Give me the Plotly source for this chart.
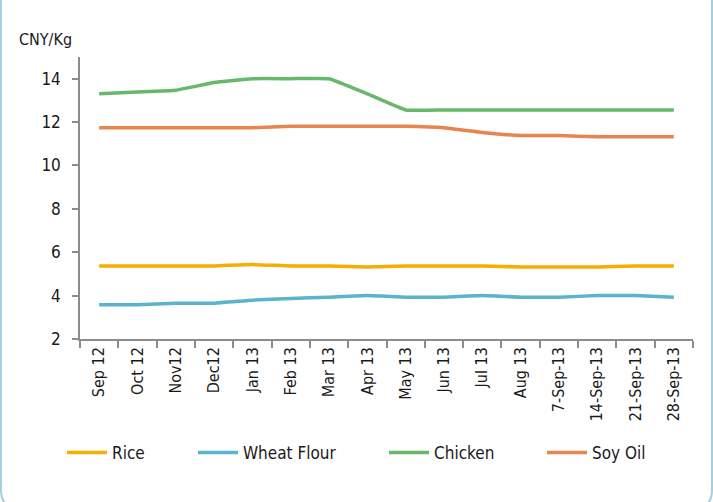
import plotly.graph_objects as go

categories = ["Sep 12", "Oct 12", "Nov12", "Dec12", "Jan 13", "Feb 13", "Mar 13", "Apr 13",
              "May 13", "Jun 13", "Jul 13", "Aug 13", "7-Sep-13", "14-Sep-13", "21-Sep-13", "28-Sep-13"]
rice = [5.37, 5.37, 5.37, 5.37, 5.43, 5.37, 5.37, 5.32, 5.37, 5.37, 5.37, 5.32, 5.32, 5.32, 5.37, 5.37]
wheat_flour = [3.58, 3.58, 3.65, 3.65, 3.79, 3.87, 3.93, 4.0, 3.93, 3.93, 4.0, 3.93, 3.93, 4.0, 4.0, 3.93]
chicken = [13.31, 13.39, 13.47, 13.82, 14.0, 14.0, 14.0, 13.3, 12.56, 12.56, 12.56, 12.56, 12.56, 12.56, 12.56, 12.56]
soy_oil = [11.74, 11.74, 11.74, 11.74, 11.74, 11.81, 11.81, 11.81, 11.81, 11.74, 11.52, 11.38, 11.38, 11.32, 11.32, 11.32]
y_ticks = [2, 4, 6, 8, 10, 12, 14]

series = [("Rice", rice, "#F4AF00"), ("Wheat Flour", wheat_flour, "#5BB3CD"),
          ("Chicken", chicken, "#68B86B"), ("Soy Oil", soy_oil, "#E8844E")]

W, H = 713, 502
L, R, T, B = 80, 20, 57, 163
PW, PH = W - L - R, H - T - B

def px2paper(x, y):
    return (x - L) / PW, (H - B - y) / PH

FONT = "Liberation Sans Narrow, DejaVu Sans Condensed, Liberation Sans, Arial, sans-serif"

fig = go.Figure()
legend_x = [68, 199, 390, 548]
legend_names = ["legend", "legend2", "legend3", "legend4"]
for (name, vals, color), lname in zip(series, legend_names):
    fig.add_trace(go.Scatter(x=categories, y=vals, name=name, mode="lines",
                             line=dict(color=color, width=3.5, shape="spline", smoothing=0.3),
                             legend=lname))

layout_legends = {}
for lname, lx in zip(legend_names, legend_x):
    xp, yp = px2paper(lx - 6, 453)
    layout_legends[lname] = dict(x=xp, y=yp, xanchor="left", yanchor="middle",
                                 orientation="h", font=dict(family=FONT, size=17, color="#1a1a1a"),
                                 bgcolor="rgba(0,0,0,0)", itemwidth=40)

# rounded border (bottom edge lies just below the visible area)
x0, _ = px2paper(1, 0)
x1, _ = px2paper(712, 0)
_, ytop = px2paper(0, -20)
_, ybot = px2paper(0, 508)
rx = 18 / PW
ry = 18 / PH
path = (f"M {x0},{ytop} L {x0},{ybot + ry} Q {x0},{ybot} {x0 + rx},{ybot} "
        f"L {x1 - rx},{ybot} Q {x1},{ybot} {x1},{ybot + ry} L {x1},{ytop}")

fig.update_layout(
    width=W, height=H,
    margin=dict(l=L, r=R, t=T, b=B, autoexpand=False),
    paper_bgcolor="white", plot_bgcolor="white",
    font=dict(family=FONT, size=16, color="#1a1a1a"),
    showlegend=True,
    **layout_legends,
    xaxis=dict(type="category", showgrid=False, showline=True, linecolor="#8c8c8c", linewidth=1.5,
               ticks="outside", ticklen=7, tickcolor="#8c8c8c", tickwidth=1.5, tickson="boundaries",
               tickangle=-90, tickfont=dict(family=FONT, size=16, color="#1a1a1a"),
               range=[-0.5, len(categories) - 0.5], fixedrange=True, automargin=False),
    yaxis=dict(range=[2, 15], tickvals=y_ticks, showgrid=False, showline=True, linecolor="#8c8c8c",
               linewidth=1.5, ticks="outside", ticklen=6, tickcolor="#8c8c8c", tickwidth=1.5,
               tickfont=dict(family=FONT, size=17, color="#1a1a1a"), zeroline=False,
               ticklabelstandoff=8, fixedrange=True, automargin=False),
    annotations=[dict(text="CNY/Kg", xref="paper", yref="paper", x=px2paper(17, 0)[0],
                      y=px2paper(0, 40)[1], xanchor="left", yanchor="middle", showarrow=False,
                      font=dict(family=FONT, size=16, color="#1a1a1a"))],
    shapes=[dict(type="path", xref="paper", yref="paper", path=path,
                 line=dict(color="#A3CFDF", width=2), layer="above")],
)

fig.write_html("out.html", config={"displayModeBar": False},
               post_script="document.body.style.margin='0';")
